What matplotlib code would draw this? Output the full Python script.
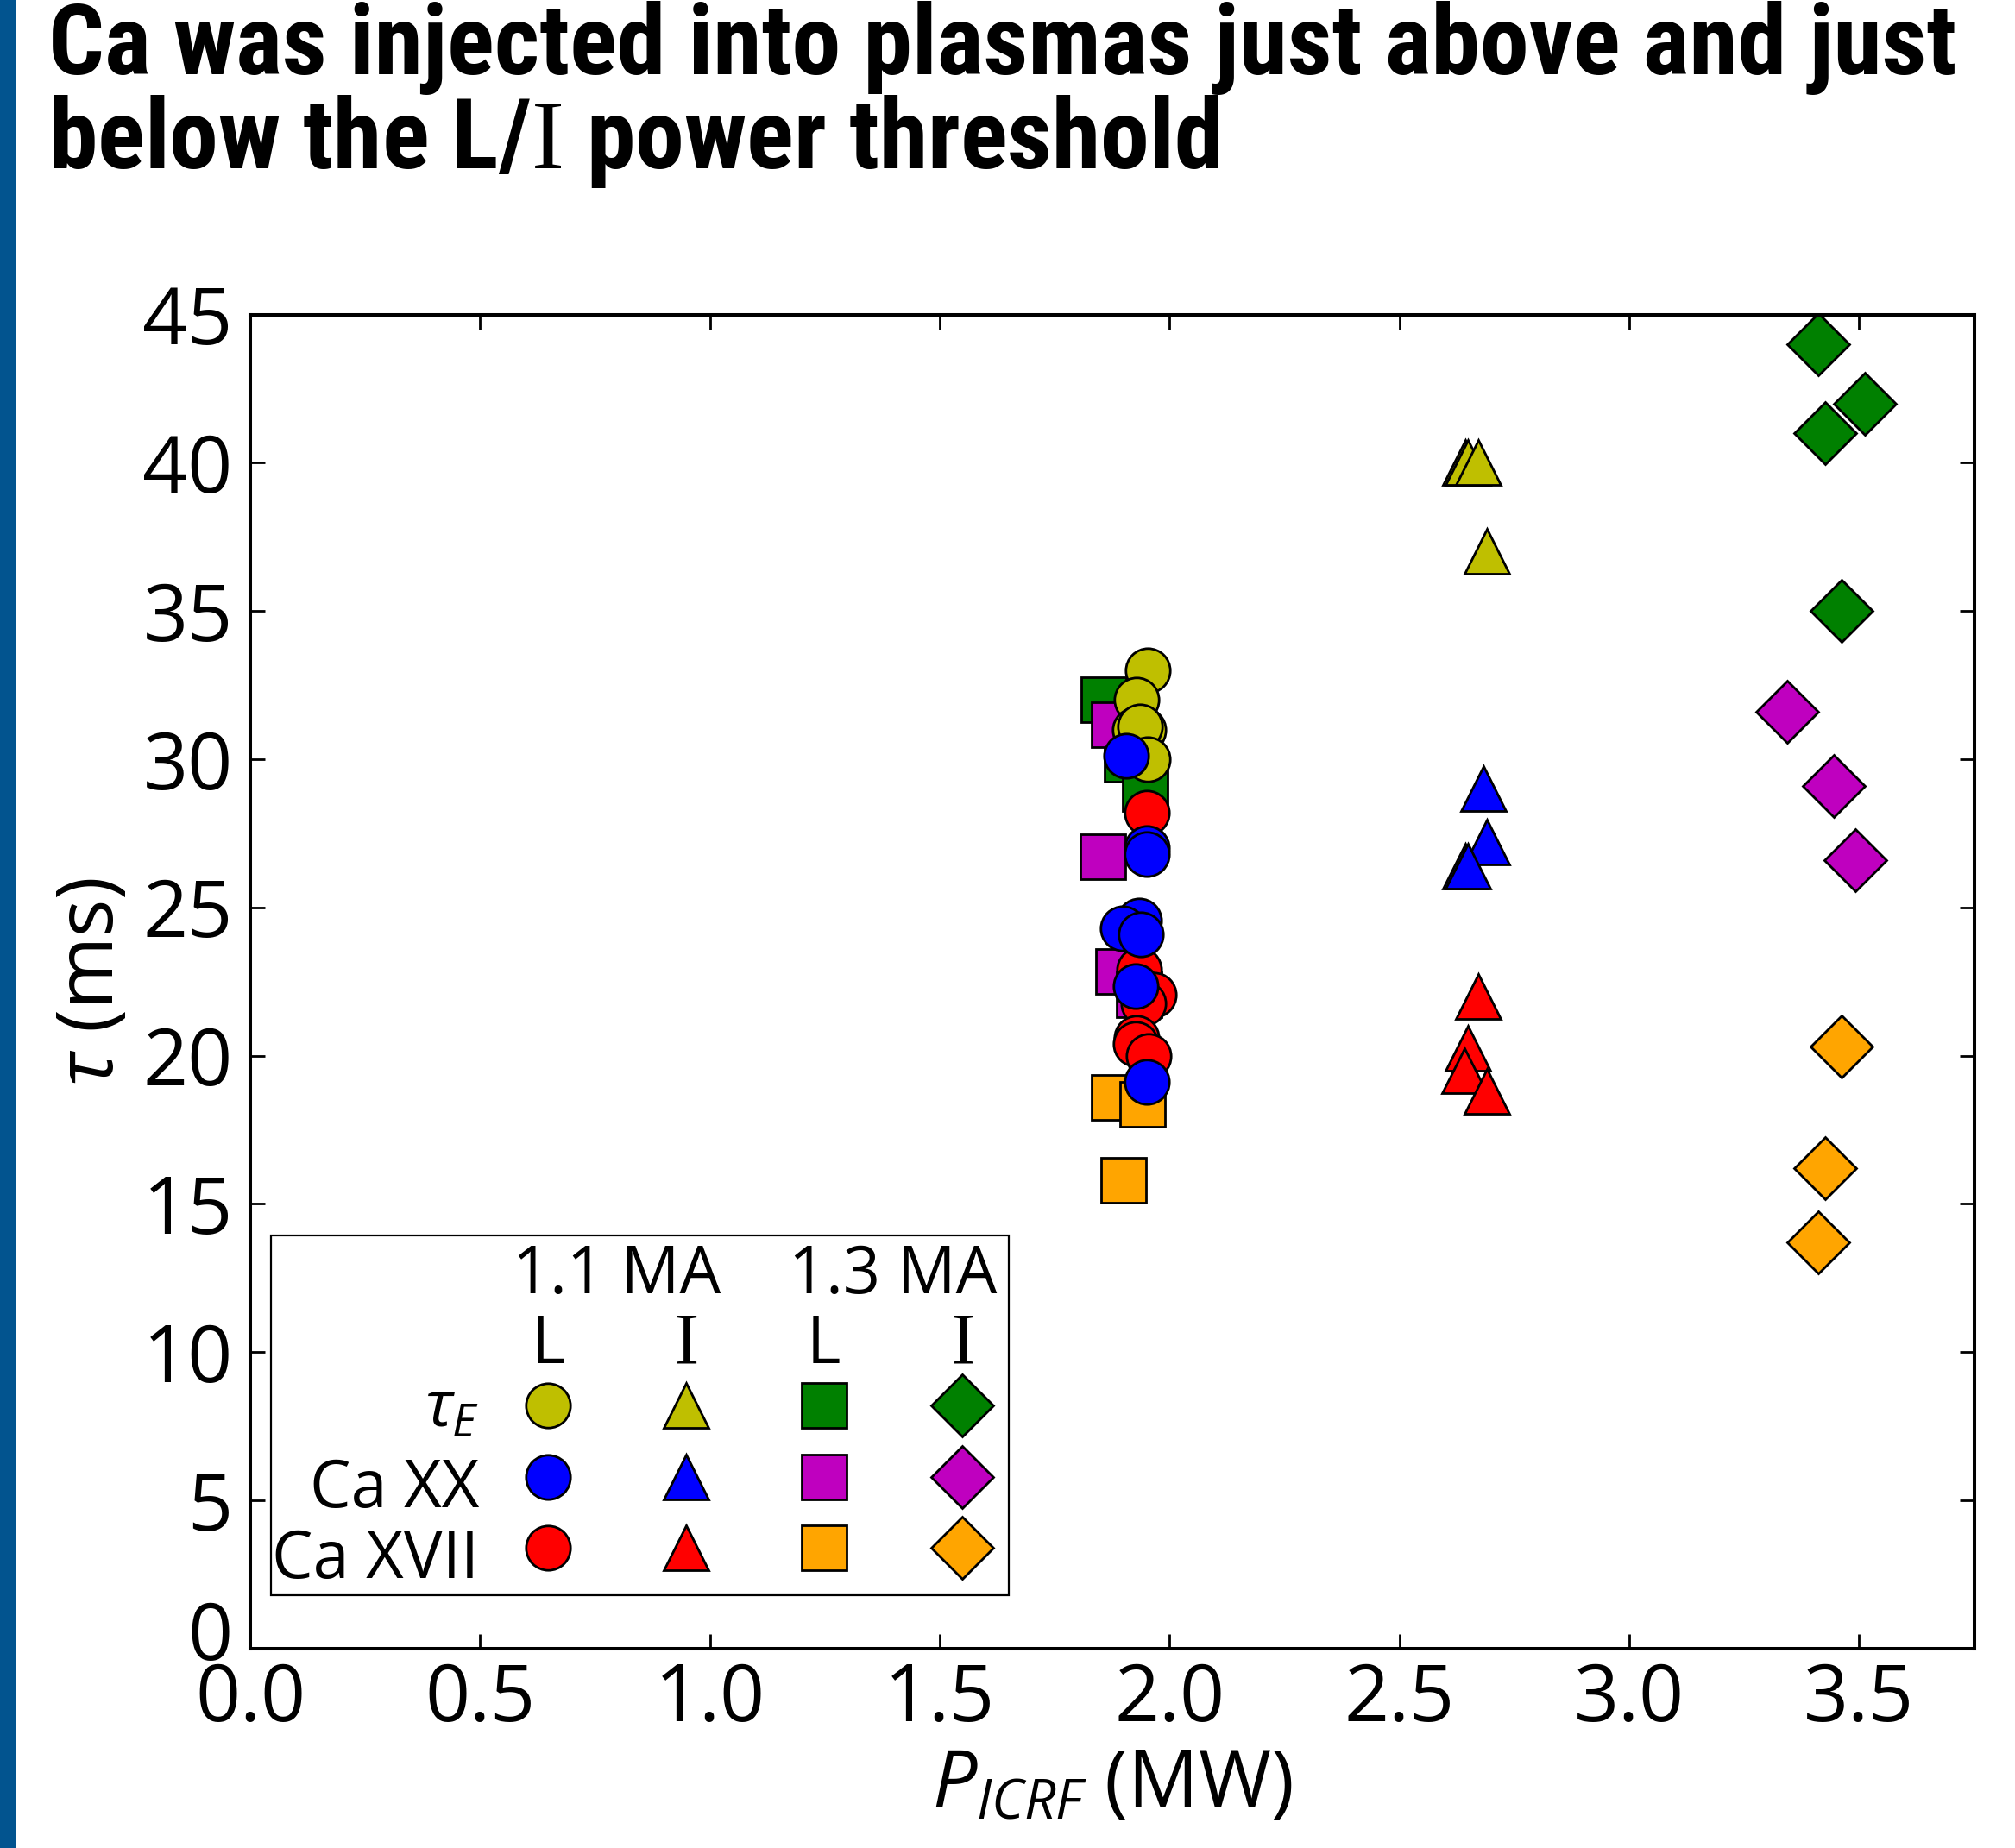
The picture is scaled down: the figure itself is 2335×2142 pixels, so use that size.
import matplotlib
matplotlib.use("Agg")
import matplotlib.pyplot as plt
import matplotlib.font_manager as fm
from matplotlib.patches import Rectangle
from matplotlib.transforms import ScaledTranslation

# ---------------- data ----------------
# 1.1 MA, L-mode (circles)
tauE_11L_x = [1.952, 1.927, 1.924, 1.943, 1.935, 1.952]
tauE_11L_y = [33.0, 32.0, 31.0, 31.0, 31.1, 30.0]
caXX_11L_x = [1.905, 1.950, 1.950, 1.933, 1.898, 1.938, 1.926, 1.950]
caXX_11L_y = [30.1, 27.0, 26.8, 24.55, 24.3, 24.1, 22.35, 19.1]
caXVII_11L_x = [1.950, 1.933, 1.966, 1.943, 1.928, 1.926, 1.955]
caXVII_11L_y = [28.2, 22.9, 22.05, 21.75, 20.6, 20.4, 20.0]

# 1.1 MA, I-mode (triangles)
tauE_11I_x = [2.644, 2.649, 2.671, 2.691]
tauE_11I_y = [40.0, 40.0, 40.0, 37.0]
caXX_11I_x = [2.683, 2.690, 2.643, 2.648]
caXX_11I_y = [29.0, 27.2, 26.4, 26.4]
caXVII_11I_x = [2.671, 2.648, 2.642, 2.691]
caXVII_11I_y = [22.0, 20.25, 19.5, 18.8]

# 1.3 MA, L-mode (squares)
tauE_13L_x = [1.857, 1.907, 1.946]
tauE_13L_y = [32.0, 30.0, 29.0]
caXX_13L_x = [1.880, 1.855, 1.889, 1.934]
caXX_13L_y = [31.15, 26.7, 22.85, 22.05]
caXVII_13L_x = [1.880, 1.941, 1.900]
caXVII_13L_y = [18.6, 18.35, 15.8]

# 1.3 MA, I-mode (diamonds)
tauE_13I_x = [3.411, 3.513, 3.426, 3.462]
tauE_13I_y = [44.0, 42.0, 41.0, 35.0]
caXX_13I_x = [3.344, 3.444, 3.491]
caXX_13I_y = [31.6, 29.1, 26.6]
caXVII_13I_x = [3.462, 3.426, 3.411]
caXVII_13I_y = [20.3, 16.2, 13.7]

x_ticks = [0.0, 0.5, 1.0, 1.5, 2.0, 2.5, 3.0, 3.5]
y_ticks = [0, 5, 10, 15, 20, 25, 30, 35, 40, 45]
row_labels = [r"$\tau_E$", "Ca XX", "Ca XVII"]
col_labels = ["L", r"$\mathrm{I}$", "L", r"$\mathrm{I}$"]
group_labels = ["1.1 MA", "1.3 MA"]
title_lines = ["Ca was injected into plasmas just above and just",
               r"below the L/$\mathrm{I}$ power threshold"]

# ---------------- style ----------------
W, H, DPI = 2335, 2142, 200
names = {f.name for f in fm.fontManager.ttflist}
title_font = next((n for n in ["Roboto Condensed", "Liberation Sans Narrow",
                               "Open Sans Condensed", "Noto Sans Condensed",
                               "Open Sans"] if n in names), "DejaVu Sans")

plt.rcParams.update({
    "font.family": ["Open Sans", "DejaVu Sans"],
    "mathtext.fontset": "custom",
    "mathtext.rm": "Liberation Serif",
    "mathtext.it": "Open Sans:italic",
    "mathtext.bf": "Open Sans:bold",
    "mathtext.sf": "Open Sans",
})

YEL, GRN, BLU, RED, MAG, ORA = "#BFBF00", "#008000", "#0000FF", "#FF0000", "#BF00BF", "#FFA500"
MS, MEW = 18.5, 1.0

fig = plt.figure(figsize=(W / DPI, H / DPI), dpi=DPI)
fig.add_artist(Rectangle((0, 0), 18 / W, 1, transform=fig.transFigure,
                         facecolor="#02548F", edgecolor="none", zorder=0))

axL, axR, axT, axB = 290, 2287.6, 364.5, 1910.7
ax = fig.add_axes([axL / W, 1 - axB / H, (axR - axL) / W, (axB - axT) / H])


def pts(x, y, marker, color, **kw):
    ax.plot(x, y, linestyle="none", marker=marker, ms=MS, mfc=color,
            mec="k", mew=MEW, **kw)


# draw order (squares below circles)
pts(tauE_13L_x, tauE_13L_y, "s", GRN)
pts(caXX_13L_x, caXX_13L_y, "s", MAG)
pts(caXVII_13L_x, caXVII_13L_y, "s", ORA)
pts(tauE_13I_x, tauE_13I_y, "D", GRN)
pts(caXX_13I_x, caXX_13I_y, "D", MAG)
pts(caXVII_13I_x, caXVII_13I_y, "D", ORA)
pts(tauE_11I_x, tauE_11I_y, "^", YEL)
pts(caXX_11I_x, caXX_11I_y, "^", BLU)
pts(caXVII_11I_x, caXVII_11I_y, "^", RED)
pts(tauE_11L_x, tauE_11L_y, "o", YEL)
pts(caXVII_11L_x, caXVII_11L_y, "o", RED)
pts(caXX_11L_x, caXX_11L_y, "o", BLU)

ax.set_xlim(0, 3.75)
ax.set_ylim(0, 45)
ax.set_xticks(x_ticks)
ax.set_yticks(y_ticks)
ax.tick_params(direction="in", length=6.1, width=1.0, top=True, right=True,
               labelsize=32.8)
ax.tick_params(axis="x", pad=5.4)
ax.tick_params(axis="y", pad=7.3)
for s in ax.spines.values():
    s.set_linewidth(1.45)

ax.set_xlabel(r"$P_{ICRF}$ (MW)", fontsize=32.8, labelpad=3)
ax.set_ylabel(r"$\tau$ (ms)", fontsize=32.8, labelpad=4.5)

# lift the "0" y tick label slightly, as in the reference
lab0 = ax.yaxis.get_major_ticks()[0].label1
lab0.set_transform(lab0.get_transform() + ScaledTranslation(0, 21 / DPI, fig.dpi_scale_trans))

# ---------------- custom legend table ----------------
aw, ah = axR - axL, axB - axT
ax.add_patch(Rectangle((0.012, 0.0399), 0.4279, 0.2699, transform=ax.transAxes,
                       facecolor="white", edgecolor="k", lw=0.8, zorder=5,
                       clip_on=False))
col_x = [0.1727, 0.2528, 0.3328, 0.4129]
row_y = [0.1819, 0.1287, 0.0755]
col_markers = ["o", "^", "s", "D"]
grid_colors = [[YEL, YEL, GRN, GRN],
               [BLU, BLU, MAG, MAG],
               [RED, RED, ORA, ORA]]
LFS = 27.2
for gx, g in zip([(col_x[0] + col_x[1]) / 2, (col_x[2] + col_x[3]) / 2], group_labels):
    ax.text(gx, 0.2663, g, transform=ax.transAxes, ha="center", va="baseline",
            fontsize=LFS, zorder=6)
for cx, c in zip(col_x, col_labels):
    ax.text(cx, 0.2136, c, transform=ax.transAxes, ha="center", va="baseline",
            fontsize=LFS * (1.12 if "mathrm" in c else 1.0), zorder=6)
for i, (ry, lab) in enumerate(zip(row_y, row_labels)):
    off = 24 / ah if i == 0 else 35 / ah
    ax.text(0.1327, ry - off, lab, transform=ax.transAxes, ha="right",
            va="baseline", fontsize=LFS, zorder=6)
    for j, cx in enumerate(col_x):
        ax.plot([cx], [ry], linestyle="none", marker=col_markers[j], ms=MS,
                mfc=grid_colors[i][j], mec="k", mew=MEW,
                transform=ax.transAxes, clip_on=False, zorder=6)

# ---------------- title ----------------
t1 = fig.text(56 / W, 1 - 86 / H, title_lines[0], fontsize=36, fontweight="bold",
              family=title_font, ha="left", va="baseline")
t2 = fig.text(56 / W, 1 - 195 / H, title_lines[1], fontsize=36, fontweight="bold",
              family=title_font, ha="left", va="baseline")
fig.canvas.draw()
bw = t1.get_window_extent().width
fs = 36 * 2212 / bw
t1.set_fontsize(fs)
t2.set_fontsize(fs)

fig.savefig("out.png", dpi=DPI)
